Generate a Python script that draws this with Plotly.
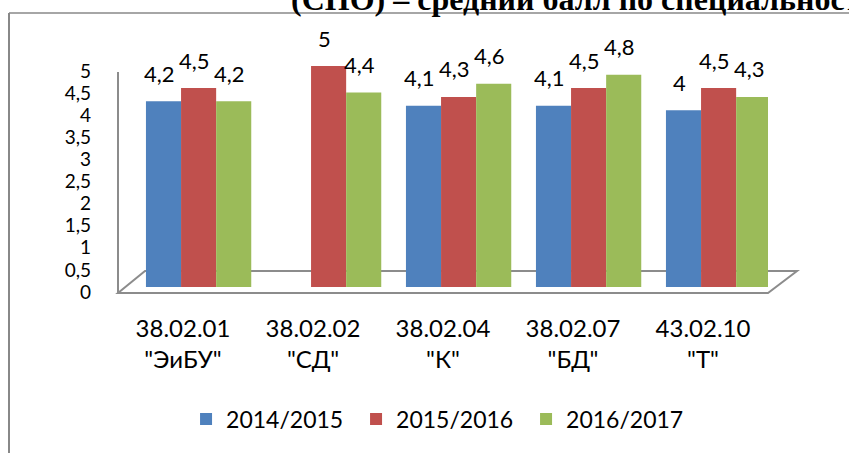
import plotly.graph_objects as go

# ---------------- data ----------------
categories = ['38.02.01<br>"ЭиБУ"', '38.02.02<br>"СД"', '38.02.04<br>"К"',
              '38.02.07<br>"БД"', '43.02.10<br>"Т"']
series_names = ["2014/2015", "2015/2016", "2016/2017"]
values_2014_2015 = [4.2, None, 4.1, 4.1, 4.0]
values_2015_2016 = [4.5, 5.0, 4.3, 4.5, 4.5]
values_2016_2017 = [4.2, 4.4, 4.6, 4.8, 4.3]
y_tick_values = [0, 0.5, 1, 1.5, 2, 2.5, 3, 3.5, 4, 4.5, 5]
y_tick_labels = ["0", "0,5", "1", "1,5", "2", "2,5", "3", "3,5", "4", "4,5", "5"]
title_text = "(СПО) – средний балл по специальностям"

# ---------------- style ----------------
colors = ["#4F81BD", "#C0504D", "#9BBB59"]
bar_offsets = [-0.285, -0.015, 0.255]
bar_width = 0.27
FONT = "Lato"

W, H = 849, 453
L, R, T, B = 118, 81, 66, 166
PW, PH = W - L - R, H - T - B


def px_x(px):
    return (px - L) / PW


def px_y(py):
    return (H - B - py) / PH


series_values = [values_2014_2015, values_2015_2016, values_2016_2017]
x_idx = list(range(len(categories)))

fig = go.Figure()
for name, vals, col, off in zip(series_names, series_values, colors, bar_offsets):
    fig.add_trace(go.Bar(
        x=x_idx, y=vals, name=name,
        marker=dict(color=col, line=dict(width=0)),
        width=bar_width, offset=off,
        hoverinfo="skip",
    ))

annotations = []
for vals, off in zip(series_values, bar_offsets):
    for i, v in zip(x_idx, vals):
        if v is None:
            continue
        annotations.append(dict(
            x=i + off + bar_width / 2, y=v, xref="x", yref="y",
            text=f"{v:g}".replace(".", ","), showarrow=False,
            xanchor="center", yanchor="middle", yshift=28, xshift=-4,
            font=dict(family=FONT, size=22, color="#000000"),
        ))

# clipped title (only its lower part is visible in the page)
annotations.append(dict(
    x=px_x(289), y=px_y(19), xref="paper", yref="paper",
    text=title_text, showarrow=False, xanchor="left", yanchor="bottom",
    font=dict(family="Liberation Serif", size=32, color="#000000", weight="bold"),
))

gray = "#8C8C8C"
shapes = [
    # floor of the 3D chart
    dict(type="path", xref="paper", yref="paper", layer="below",
         path=(f"M{px_x(118)},{px_y(293)} L{px_x(768)},{px_y(293)} "
               f"L{px_x(797)},{px_y(271)} L{px_x(145)},{px_y(271)} Z"),
         line=dict(color=gray, width=2), fillcolor="rgba(0,0,0,0)"),
    # left wall edge
    dict(type="line", xref="paper", yref="paper", layer="below",
         x0=px_x(118), x1=px_x(118), y0=px_y(293), y1=px_y(72),
         line=dict(color=gray, width=2)),
    # chart frame
    dict(type="line", xref="paper", yref="paper", layer="below",
         x0=px_x(9), x1=px_x(9), y0=px_y(13), y1=px_y(470),
         line=dict(color="#888888", width=2)),
    dict(type="line", xref="paper", yref="paper", layer="below",
         x0=px_x(9), x1=px_x(870), y0=px_y(13), y1=px_y(13),
         line=dict(color="#888888", width=1.5)),
]

fig.update_layout(
    width=W, height=H,
    margin=dict(l=L, r=R, t=T, b=B, pad=0),
    paper_bgcolor="white", plot_bgcolor="rgba(0,0,0,0)",
    barmode="overlay",
    showlegend=True,
    legend=dict(orientation="h", x=0.497, xanchor="center", y=px_y(419), yanchor="middle",
                font=dict(family=FONT, size=23, color="#000000"),
                entrywidth=125, entrywidthmode="pixels",
                itemclick=False, itemdoubleclick=False),
    xaxis=dict(range=[-0.5, 4.5], tickvals=x_idx, ticktext=categories,
               showgrid=False, zeroline=False, showline=False, ticks="",
               tickfont=dict(family=FONT, size=24, color="#000000"),
               ticklabelstandoff=25),
    yaxis=dict(range=[0, 5], tickvals=y_tick_values, ticktext=y_tick_labels,
               showgrid=False, zeroline=False, showline=False, ticks="",
               tickfont=dict(family=FONT, size=19, color="#000000"),
               ticklabelstandoff=26, ticklabelshift=5),
    annotations=annotations,
    shapes=shapes,
)

fig.write_html(
    "out.html",
    config={"displayModeBar": False},
    post_script="document.body.style.margin='0';document.body.style.padding='0';"
                "document.documentElement.style.overflow='hidden';",
)
